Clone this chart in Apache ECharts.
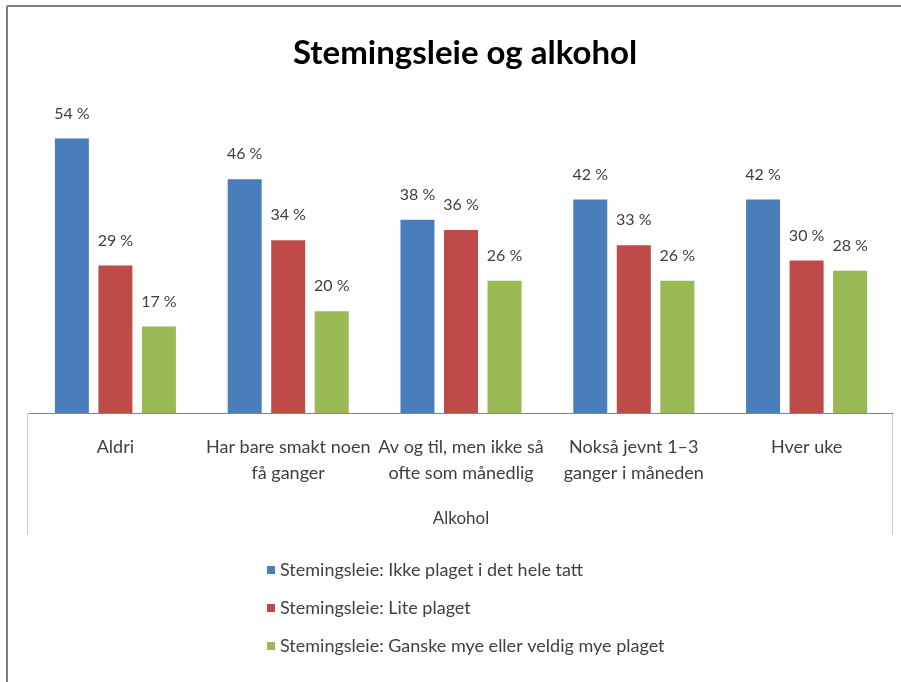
<!DOCTYPE html>
<html>
<head>
<meta charset="utf-8">
<script src="https://cdn.jsdelivr.net/npm/echarts@6/dist/echarts.min.js"></script>
<style>
  html, body { margin: 0; padding: 0; background: #fff; }
  #chart { width: 901px; height: 682px; }
</style>
</head>
<body>
<div id="chart"></div>
<script>
// kategorier og verdier (prosent)
const categories = [
  'Aldri',
  'Har bare smakt noen\nfå ganger',
  'Av og til, men ikke så\nofte som månedlig',
  'Nokså jevnt 1–3\nganger i måneden',
  'Hver uke'
];
const seriesNames = [
  'Stemingsleie: Ikke plaget i det hele tatt',
  'Stemingsleie: Lite plaget',
  'Stemingsleie: Ganske mye eller veldig mye plaget'
];
const ikkePlaget = [54, 46, 38, 42, 42];
const litePlaget = [29, 34, 36, 33, 30];
const myePlaget = [17, 20, 26, 26, 28];
const colors = ['#4a7ebb', '#be4b48', '#98b954'];

const font = 'Lato, "Open Sans", sans-serif';

const chartDom = document.getElementById('chart');
const myChart = echarts.init(chartDom);

function bar(name, data, color) {
  return {
    name: name,
    type: 'bar',
    data: data,
    barWidth: 34,
    barGap: '28%',
    itemStyle: { color: color },
    label: {
      show: true,
      position: 'top',
      distance: 17,
      formatter: '{c} %',
      color: '#404040',
      fontFamily: font,
      fontSize: 16
    }
  };
}

const option = {
  backgroundColor: '#fff',
  animation: false,
  title: {
    text: 'Stemingsleie og alkohol',
    left: 288,
    top: 32,
    textStyle: { fontFamily: font, fontSize: 33, fontWeight: 'bold', color: '#000' }
  },
  legend: {
    orient: 'vertical',
    left: 262,
    top: 556,
    itemWidth: 8,
    itemHeight: 8,
    itemGap: 20,
    icon: 'rect',
    textStyle: { fontFamily: font, fontSize: 18, color: '#404040' },
    data: seriesNames
  },
  grid: { left: 29, right: 8, top: 108, bottom: 269 },
  xAxis: {
    type: 'category',
    data: categories,
    name: 'Alkohol',
    nameLocation: 'middle',
    nameGap: 97,
    nameTextStyle: { fontFamily: font, fontSize: 17, color: '#404040' },
    axisLine: { lineStyle: { color: '#868686' } },
    axisTick: { show: false },
    axisLabel: {
      interval: 0,
      margin: 21,
      lineHeight: 26,
      fontFamily: font,
      fontSize: 18,
      color: '#404040'
    }
  },
  yAxis: { type: 'value', min: 0, max: 60, show: false },
  series: [
    bar(seriesNames[0], ikkePlaget, colors[0]),
    bar(seriesNames[1], litePlaget, colors[1]),
    bar(seriesNames[2], myePlaget, colors[2])
  ],
  graphic: [
    // ytre ramme
    { type: 'line', shape: { x1: 7, y1: 6, x2: 901, y2: 6 }, style: { stroke: '#7f7f7f', lineWidth: 2 } },
    { type: 'line', shape: { x1: 7, y1: 6, x2: 7, y2: 682 }, style: { stroke: '#7f7f7f', lineWidth: 2 } },
    // aksefeltets sider
    { type: 'line', shape: { x1: 27.5, y1: 413, x2: 27.5, y2: 535 }, style: { stroke: '#c8c8c8', lineWidth: 1 } },
    { type: 'line', shape: { x1: 892.5, y1: 413, x2: 892.5, y2: 535 }, style: { stroke: '#c8c8c8', lineWidth: 1 } }
  ]
};

option && myChart.setOption(option);
</script>
</body>
</html>
